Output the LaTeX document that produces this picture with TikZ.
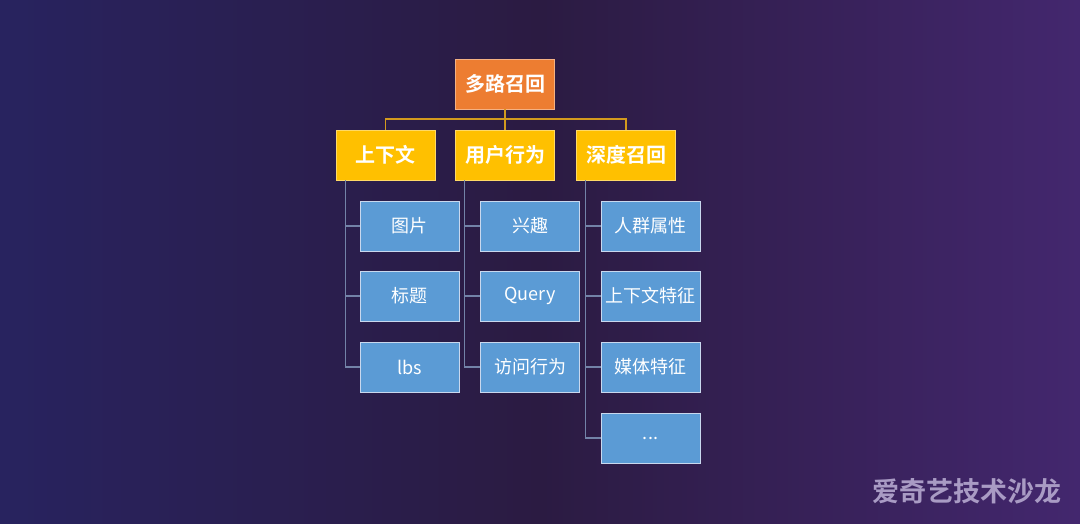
\documentclass[tikz,border=0pt]{standalone}
\usepackage{fontspec}
\setmainfont{Noto Sans CJK SC}
\newfontfamily\cjkbold{Noto Sans CJK SC Bold}
\definecolor{bgleft}{HTML}{28235F}
\definecolor{bgmid}{HTML}{2B1B42}
\definecolor{bgright}{HTML}{43276E}
\definecolor{rootfill}{HTML}{ED7D31}
\definecolor{catfill}{HTML}{FFC000}
\definecolor{leaffill}{HTML}{5B9BD5}
\definecolor{leafedge}{HTML}{C9D8EE}
\definecolor{busline}{HTML}{D39A1E}
\definecolor{treeline}{HTML}{7383A8}
\definecolor{markcol}{HTML}{A99BC4}

\tikzset{
  rootbox/.style={draw=rootfill!60!white, fill=rootfill, line width=0.8pt,
    minimum width=99pt, minimum height=50pt, inner sep=0pt,
    text=white, font=\cjkbold\fontsize{20}{24}\selectfont},
  catbox/.style={rootbox, draw=catfill!60!white, fill=catfill},
  leafbox/.style={draw=leafedge, fill=leaffill, line width=0.8pt,
    minimum width=99pt, minimum height=50pt, inner sep=0pt,
    text=white, font=\fontsize{18}{22}\selectfont},
  busedge/.style={draw=busline, line width=1.1pt},
  leafedge/.style={draw=treeline, line width=1.1pt}
}

\begin{document}
\begin{tikzpicture}[x=1pt, y=-1pt]
            \shade[left color=bgleft, right color=bgright, middle color=bgmid] (0,0) rectangle (1080,524);
            \useasboundingbox (0,0) rectangle (1080,524);

            \node[rootbox] (root) at (505,84) {多路召回};

            \node[catbox] (ctx) at (385.5,155) {上下文};
            \node[catbox] (user) at (505,155) {用户行为};
            \node[catbox] (deep) at (626,155) {深度召回};

            \node[leafbox] (img) at (409.5,226) {图片};
            \node[leafbox] (title) at (409.5,296) {标题};
            \node[leafbox] (lbs) at (409.5,367) {lbs};

            \node[leafbox] (interest) at (530,226) {兴趣};
            \node[leafbox] (query) at (530,296) {Query};
            \node[leafbox] (visit) at (530,367) {访问行为};

            \node[leafbox] (crowd) at (650.5,226) {人群属性};
            \node[leafbox] (ctxfeat) at (650.5,296) {上下文特征};
            \node[leafbox] (media) at (650.5,367) {媒体特征};
            \node[leafbox] (more) at (650.5,438) {...};

            % root to categories
            \coordinate (bus) at (505,119);
            \draw[busedge] (root.south) -- (bus);
            \draw[busedge] (bus) -| (ctx.north);
            \draw[busedge] (bus) -- (user.north);
            \draw[busedge] (bus) -| (deep.north);

            % categories to leaves
            \foreach \cat/\leaf in {ctx/img, ctx/title, ctx/lbs,
                user/interest, user/query, user/visit,
                deep/crowd, deep/ctxfeat, deep/media, deep/more}
              \draw[leafedge] ([xshift=9.5pt]\cat.south west) |- (\leaf.west);

            \node[text=markcol, font=\cjkbold\fontsize{27}{30}\selectfont] (mark) at (967,491) {爱奇艺技术沙龙};
        \end{tikzpicture}
\end{document}
